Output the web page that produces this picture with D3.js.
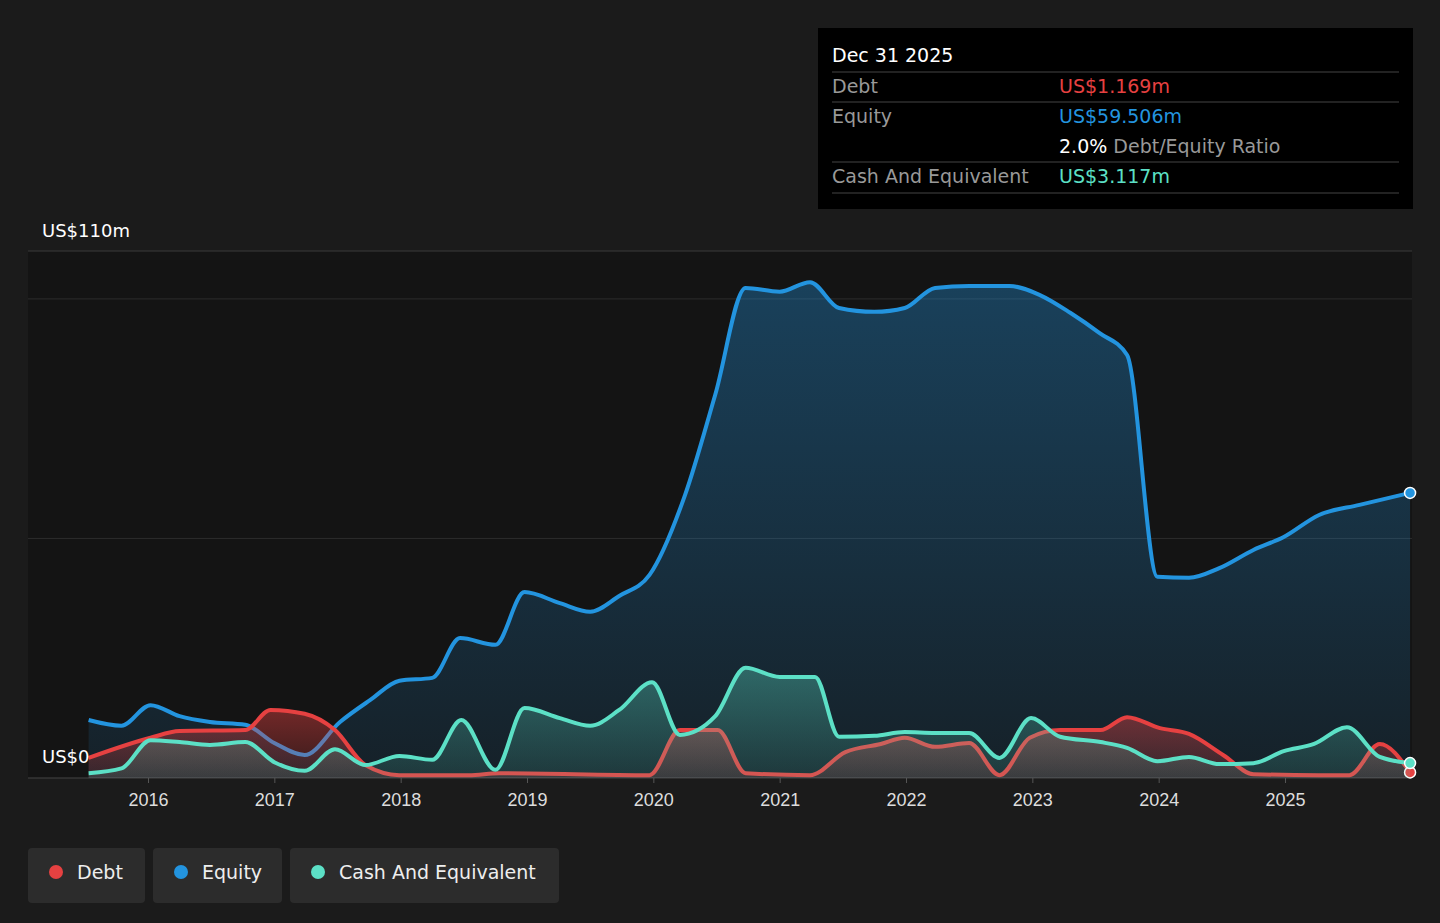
<!DOCTYPE html>
<html><head><meta charset="utf-8">
<script src="https://cdn.jsdelivr.net/npm/d3@7"></script>
<style>
body{margin:0;background:#1b1b1b;font-family:"DejaVu Sans",sans-serif;}
</style></head>
<body><svg id="chart" width="1440" height="923"></svg>
<script>
// values in US$m, dates as fractional years
const equityYears = [2015.53,2015.79,2016.02,2016.25,2016.49,2016.77,2017,2017.24,2017.52,2017.76,2017.99,2018.25,2018.47,2018.75,2018.98,2019.26,2019.5,2019.73,2019.97,2020.25,2020.49,2020.73,2021,2021.24,2021.47,2021.75,2021.99,2022.23,2022.5,2022.82,2023.06,2023.3,2023.53,2023.75,2023.99,2024.24,2024.48,2024.75,2024.99,2025.27,2025.59,2025.99];
const equityValues = [12.1,10.9,15.2,12.9,11.7,11.1,7.3,4.8,11.7,16.3,20.3,20.9,29.2,27.8,38.8,36.5,34.7,38,42.4,59,80,102.3,101.5,103.5,98.1,97.3,98.1,102.3,102.7,102.7,100.8,97.1,92.9,88.3,42,41.8,43.8,47.6,50.3,54.9,57,59.506];
const debtYears = [2015.53,2016.02,2016.25,2016.77,2016.97,2017.24,2017.48,2017.72,2017.99,2018.54,2018.78,2019.97,2020.21,2020.51,2020.73,2021.24,2021.52,2021.8,2021.99,2022.23,2022.5,2022.74,2022.98,2023.22,2023.54,2023.75,2024.01,2024.24,2024.51,2024.75,2025.27,2025.51,2025.75,2025.99];
const debtValues = [4.2,8.4,9.8,10,14.2,13.4,10,2.7,0.6,0.6,1,0.6,10,10,1,0.6,5.4,7.1,8.4,6.5,7.3,0.6,8.4,10,10,12.7,10.4,9.2,4.8,0.8,0.6,0.6,7.1,1.169];
const cashYears = [2015.53,2015.79,2016.02,2016.25,2016.49,2016.77,2017,2017.24,2017.48,2017.72,2017.99,2018.25,2018.48,2018.75,2018.98,2019.26,2019.5,2019.73,2019.99,2020.21,2020.49,2020.73,2021,2021.28,2021.47,2021.75,2021.99,2022.23,2022.5,2022.74,2022.99,2023.22,2023.54,2023.75,2023.99,2024.24,2024.48,2024.75,2024.99,2025.23,2025.49,2025.75,2025.99];
const cashValues = [1,2,7.9,7.5,6.9,7.5,3.3,1.5,6,2.7,4.6,3.8,12.1,1.7,14.6,12.5,10.9,14.2,20,9,12.9,23,21.1,21.1,8.6,8.8,9.6,9.4,9.4,4.2,12.5,8.6,7.5,6.3,3.5,4.4,2.9,3.1,5.6,7.1,10.6,4.4,3.117];
const tickYears = [2016,2017,2018,2019,2020,2021,2022,2023,2024,2025];

const svg = d3.select("#chart");
const x = d3.scaleLinear().domain([2016,2025]).range([148,1285]);
const y = d3.scaleLinear().domain([0,110]).range([778,251]);

svg.append("rect").attr("x",28).attr("y",251).attr("width",1384).attr("height",527).attr("fill","#141414");
[50,100].forEach(v=>svg.append("line").attr("x1",28).attr("x2",1412).attr("y1",y(v)).attr("y2",y(v)).attr("stroke","#2c2c2c"));
svg.append("line").attr("x1",28).attr("x2",1412).attr("y1",y(110)).attr("y2",y(110)).attr("stroke","#3a3a3a");
svg.append("line").attr("x1",28).attr("x2",1412).attr("y1",y(0)).attr("y2",y(0)).attr("stroke","#444");

const defs = svg.append("defs");
function grad(id,color,o1,o2){
  const g=defs.append("linearGradient").attr("id",id).attr("x1",0).attr("x2",0).attr("y1",0).attr("y2",1);
  g.append("stop").attr("offset","0%").attr("stop-color",color).attr("stop-opacity",o1);
  g.append("stop").attr("offset","100%").attr("stop-color",color).attr("stop-opacity",o2);
}
grad("gE","#2394df",0.35,0.1);
grad("gD","#e64141",0.45,0.15);
grad("gC","#5ce0c6",0.35,0.12);

function series(years,vals,color,gid){
  const d=years.map((t,i)=>[t,vals[i]]);
  const area=d3.area().x(p=>x(p[0])).y0(y(0)).y1(p=>y(p[1])).curve(d3.curveMonotoneX);
  const line=d3.line().x(p=>x(p[0])).y(p=>y(p[1])).curve(d3.curveMonotoneX);
  svg.append("path").attr("d",area(d)).attr("fill",`url(#${gid})`);
  svg.append("path").attr("d",line(d)).attr("fill","none").attr("stroke",color).attr("stroke-width",4);
  const last=d[d.length-1];
  svg.append("circle").attr("cx",x(last[0])).attr("cy",y(last[1])).attr("r",5.5).attr("fill",color).attr("stroke","#fff").attr("stroke-width",1.5);
}
series(equityYears,equityValues,"#2394df","gE");
series(debtYears,debtValues,"#e64141","gD");
series(cashYears,cashValues,"#5ce0c6","gC");

const ax = svg.append("g").attr("transform","translate(0,778)").call(d3.axisBottom(x).tickValues(tickYears).tickFormat(d3.format("d")).tickSize(5));
ax.select(".domain").remove();
ax.selectAll("line").attr("stroke","#555");
ax.selectAll("text").attr("fill","#ddd").attr("font-size",18).attr("dy","1.1em");

svg.append("text").attr("x",42).attr("y",237).attr("fill","#fff").attr("font-size",18).text("US$110m");
svg.append("text").attr("x",42).attr("y",763).attr("fill","#fff").attr("font-size",18).text("US$0");

// tooltip box
const tt = svg.append("g");
tt.append("rect").attr("x",818).attr("y",28).attr("width",595).attr("height",181).attr("fill","#000");
tt.append("text").attr("x",832).attr("y",62).attr("fill","#fff").attr("font-size",19).text("Dec 31 2025");
[72,102,162,193].forEach(yy=>tt.append("line").attr("x1",832).attr("x2",1399).attr("y1",yy).attr("y2",yy).attr("stroke","#444"));
const rows=[["Debt","US$1.169m","#e64141",93],["Equity","US$59.506m","#2394df",123],["Cash And Equivalent","US$3.117m","#5ce0c6",183]];
rows.forEach(r=>{
  tt.append("text").attr("x",832).attr("y",r[3]).attr("fill","#999").attr("font-size",19).text(r[0]);
  tt.append("text").attr("x",1059).attr("y",r[3]).attr("fill",r[2]).attr("font-size",19).text(r[1]);
});
const rt=tt.append("text").attr("x",1059).attr("y",153).attr("font-size",19);
rt.append("tspan").attr("fill","#fff").text("2.0%");
rt.append("tspan").attr("fill","#999").text(" Debt/Equity Ratio");

// legend
const legend=[["Debt","#e64141",28,117],["Equity","#2394df",153,129],["Cash And Equivalent","#5ce0c6",290,269]];
legend.forEach(l=>{
  svg.append("rect").attr("x",l[2]).attr("y",848).attr("width",l[3]).attr("height",55).attr("rx",4).attr("fill","#2c2c2c");
  svg.append("circle").attr("cx",l[2]+28).attr("cy",872).attr("r",7).attr("fill",l[1]);
  svg.append("text").attr("x",l[2]+49).attr("y",879).attr("fill","#eee").attr("font-size",19).text(l[0]);
});
</script></body></html>
